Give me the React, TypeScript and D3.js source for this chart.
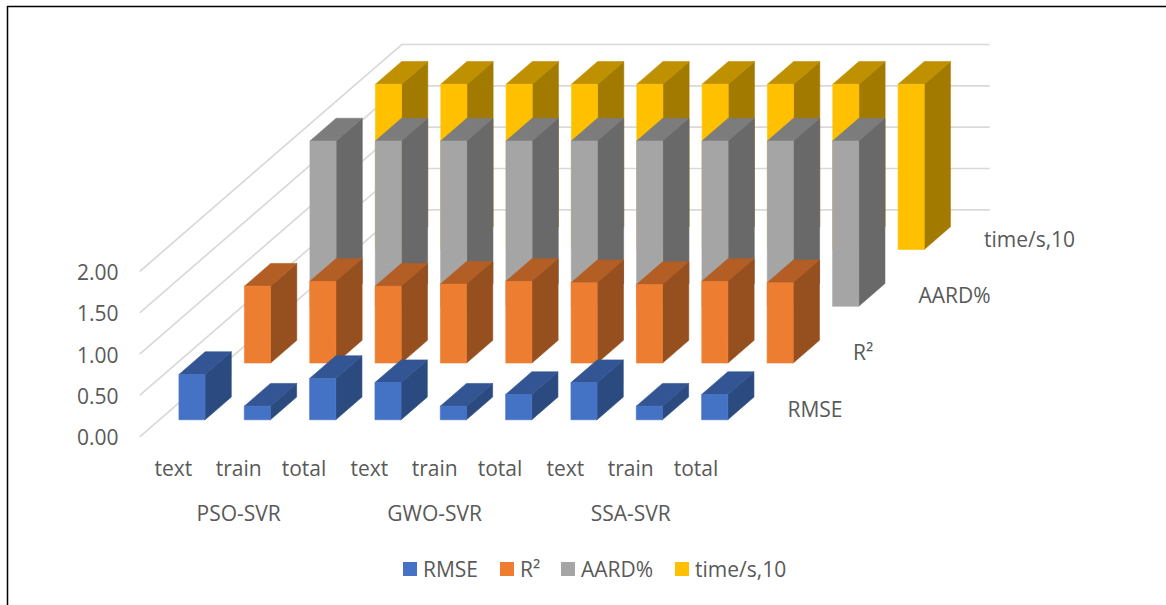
import React from "react";
import * as d3 from "d3";

// Categories along the horizontal axis, and the method each group of three belongs to.
const categories = ["text", "train", "total", "text ", "train ", "total ", "text  ", "train  ", "total  "];
const methods = ["PSO-SVR", "GWO-SVR", "SSA-SVR"];

// Series along the depth axis, front to back.
const seriesNames = ["RMSE", "R²", "AARD%", "time/s,10"];
const rmse = [0.548, 0.165, 0.5, 0.45, 0.165, 0.306, 0.45, 0.165, 0.306];
const r2 = [0.93, 0.988, 0.93, 0.955, 0.988, 0.972, 0.95, 0.988, 0.972];
const aard = [2, 2, 2, 2, 2, 2, 2, 2, 2];
const timeS = [2, 2, 2, 2, 2, 2, 2, 2, 2];
const seriesValues = [rmse, r2, aard, timeS];

const valueTicks = [0, 0.5, 1, 1.5, 2];

// Face colours of each column: front, top, side.
const faceFront = ["#4472C4", "#ED7D31", "#A5A5A5", "#FFC000"];
const faceTop = ["#335593", "#B25E25", "#7C7C7C", "#BF9000"];
const faceSide = ["#2B4A80", "#964F1E", "#696969", "#A37A00"];

const FONT = "'Open Sans', 'Noto Sans', sans-serif";
const TEXT = "#595959";
const GRID = "#D9D9D9";

const WIDTH = 1166;
const HEIGHT = 605;
const ORIGIN_X = 139.7;
const ORIGIN_Y = 436.8;
const PLOT_W = 588;
const DEPTH_X = 262;
const DEPTH_Y = 227;

const catScale = d3.scaleBand<string>().domain(categories).range([0, PLOT_W]).paddingInner(0.6).paddingOuter(0.3);
const depthScale = d3.scaleBand<string>().domain(seriesNames).range([0, 1]).paddingInner(0.6).paddingOuter(0.3);
const valueScale = d3.scaleLinear().domain([0, 2]).range([0, 165.3]);

// Oblique projection: horizontal offset, depth fraction and value to page coordinates.
const project = (x: number, depth: number, value: number): [number, number] => [
  ORIGIN_X + x + depth * DEPTH_X,
  ORIGIN_Y - depth * DEPTH_Y - valueScale(value),
];

const pathOf = d3.line<[number, number]>();
const closed = (pts: [number, number][]) => pathOf(pts) + "Z";

function Column({ cat, series, value, idx }: { cat: string; series: string; value: number; idx: number }) {
  const x0 = catScale(cat)!;
  const x1 = x0 + catScale.bandwidth();
  const d0 = depthScale(series)!;
  const d1 = d0 + depthScale.bandwidth();
  const front = [project(x0, d0, 0), project(x1, d0, 0), project(x1, d0, value), project(x0, d0, value)];
  const top = [project(x0, d0, value), project(x1, d0, value), project(x1, d1, value), project(x0, d1, value)];
  const side = [project(x1, d0, 0), project(x1, d1, 0), project(x1, d1, value), project(x1, d0, value)];
  return (
    <g strokeWidth={0.6} strokeLinejoin="round">
      <path d={closed(side)} fill={faceSide[idx]} stroke={faceSide[idx]} />
      <path d={closed(top)} fill={faceTop[idx]} stroke={faceTop[idx]} />
      <path d={closed(front)} fill={faceFront[idx]} stroke={faceFront[idx]} />
    </g>
  );
}

export default function App() {
  const labelStyle = { fontFamily: FONT, fontSize: 21, fill: TEXT };
  const legendX = [403, 500, 561, 675];
  return (
    <svg
      width={WIDTH}
      height={HEIGHT}
      viewBox={`0 0 ${WIDTH} ${HEIGHT}`}
      style={{ position: "absolute", left: 0, top: 0, background: "#fff" }}
    >
      {/* Outer frame: only the top and left edges fall inside the page */}
      <path d={`M${WIDTH},6.5H7.5V${HEIGHT}`} fill="none" stroke="#000" strokeWidth={1.5} />

      {/* Gridlines run along the side wall and then across the back wall */}
      {valueTicks.map((t) => (
        <path
          key={t}
          d={pathOf([project(0, 0, t), project(0, 1, t), project(PLOT_W, 1, t)])!}
          fill="none"
          stroke={GRID}
          strokeWidth={1.7}
        />
      ))}

      {valueTicks.map((t) => (
        <text key={t} x={118.5} y={project(0, 0, t)[1] + 0.5} textAnchor="end" dominantBaseline="central" style={labelStyle}>
          {d3.format(".2f")(t)}
        </text>
      ))}

      {/* Columns, painted from the back row forward */}
      {seriesNames
        .map((s, i) => ({ s, i }))
        .reverse()
        .map(({ s, i }) =>
          categories.map((c, k) => <Column key={s + c} cat={c} series={s} value={seriesValues[i][k]} idx={i} />)
        )}

      {categories.map((c) => (
        <text key={c} x={ORIGIN_X + catScale(c)! + catScale.bandwidth() / 2 + 1} y={468} textAnchor="middle" dominantBaseline="central" style={labelStyle}>
          {c.trim()}
        </text>
      ))}
      {methods.map((m, i) => {
        const mid = categories[i * 3 + 1];
        return (
          <text key={m} x={ORIGIN_X + catScale(mid)! + catScale.bandwidth() / 2 + 1} y={513} textAnchor="middle" dominantBaseline="central" style={labelStyle}>
            {m}
          </text>
        );
      })}

      {/* Series names beside the end of each row */}
      {seriesNames.map((s) => {
        const d = depthScale(s)! + depthScale.bandwidth() / 2;
        const [x, y] = project(PLOT_W, d, 0);
        return (
          <text key={s} x={x + 27} y={y + 0.5} dominantBaseline="central" style={labelStyle}>
            {s}
          </text>
        );
      })}

      {/* Legend */}
      {seriesNames.map((s, i) => (
        <g key={s}>
          <rect x={legendX[i]} y={562} width={14} height={14} fill={faceFront[i]} />
          <text x={legendX[i] + 20} y={568.5} dominantBaseline="central" style={labelStyle}>
            {s}
          </text>
        </g>
      ))}
    </svg>
  );
}
